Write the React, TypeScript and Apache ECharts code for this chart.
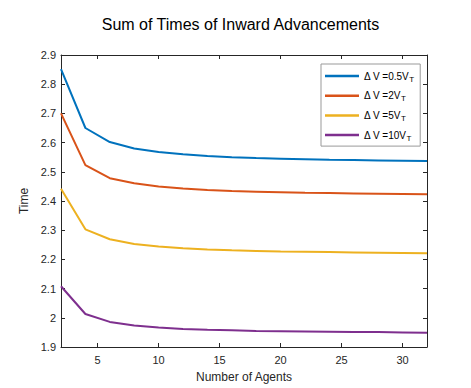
import React, { useEffect, useRef } from "react";
import * as echarts from "echarts";

const agents = [2, 4, 6, 8, 10, 12, 14, 16, 18, 20, 22, 24, 26, 28, 30, 32];
const seriesNames = ["Δ V =0.5V_T", "Δ V =2V_T", "Δ V =5V_T", "Δ V =10V_T"];
const dv05 = [2.852, 2.650, 2.602, 2.580, 2.568, 2.560, 2.554, 2.550, 2.547, 2.545, 2.543, 2.541, 2.540, 2.539, 2.538, 2.537];
const dv2 = [2.700, 2.523, 2.478, 2.461, 2.450, 2.443, 2.438, 2.434, 2.432, 2.430, 2.428, 2.427, 2.426, 2.425, 2.424, 2.423];
const dv5 = [2.442, 2.303, 2.269, 2.253, 2.244, 2.238, 2.234, 2.231, 2.229, 2.227, 2.226, 2.225, 2.224, 2.223, 2.222, 2.221];
const dv10 = [2.108, 2.013, 1.986, 1.974, 1.967, 1.962, 1.959, 1.957, 1.955, 1.954, 1.953, 1.952, 1.951, 1.951, 1.950, 1.949];
const xTicks = [5, 10, 15, 20, 25, 30];
const yTicks = [1.9, 2.0, 2.1, 2.2, 2.3, 2.4, 2.5, 2.6, 2.7, 2.8, 2.9];
const colors = ["#0072BD", "#D95319", "#EDB120", "#7E2F8E"];

const FONT = "Liberation Sans";
const AX = "#262626";

export default function App() {
  const ref = useRef<HTMLDivElement>(null);
  useEffect(() => {
    const chart = echarts.init(ref.current!, null, { renderer: "svg" });
    const values = [dv05, dv2, dv5, dv10];
    const mkX = (pos: "bottom" | "top", show: boolean) => ({
      type: "value",
      position: pos,
      min: 2,
      max: 32,
      axisLine: { show: true, onZero: false, lineStyle: { color: AX, width: 1 } },
      axisTick: { show: true, inside: true, length: 4, customValues: xTicks, lineStyle: { color: AX } },
      axisLabel: {
        show,
        customValues: xTicks,
        color: AX,
        fontFamily: FONT,
        fontSize: 11,
        margin: 7,
      },
      splitLine: { show: false },
      name: show ? "Number of Agents" : "",
      nameLocation: "middle",
      nameGap: 24,
      nameTextStyle: { color: AX, fontFamily: FONT, fontSize: 12 },
    });
    const mkY = (pos: "left" | "right", show: boolean) => ({
      type: "value",
      position: pos,
      min: 1.9,
      max: 2.9,
      axisLine: { show: true, onZero: false, lineStyle: { color: AX, width: 1 } },
      axisTick: { show: true, inside: true, length: 4, customValues: yTicks, lineStyle: { color: AX } },
      axisLabel: {
        show,
        customValues: yTicks,
        color: AX,
        fontFamily: FONT,
        fontSize: 11,
        margin: 5,
        formatter: (v: number) => String(+v.toFixed(1)),
      },
      splitLine: { show: false },
      name: show ? "Time" : "",
      nameLocation: "middle",
      nameGap: 31,
      nameRotate: 90,
      nameTextStyle: { color: AX, fontFamily: FONT, fontSize: 12 },
    });
    chart.setOption({
      animation: false,
      backgroundColor: "#ffffff",
      title: {
        text: "Sum of Times of Inward Advancements",
        left: 235.5,
        textAlign: "center",
        top: 11,
        textStyle: { color: "#000", fontFamily: FONT, fontSize: 16, fontWeight: "normal" },
      },
      grid: { left: 61, right: 44, top: 55, bottom: 41 },
      xAxis: [mkX("bottom", true), mkX("top", false)],
      yAxis: [mkY("left", true), mkY("right", false)],
      legend: {
        orient: "vertical",
        left: 321,
        top: 64,
        width: 98,
        padding: [6, 6, 4, 4],
        itemGap: 6.7,
        itemWidth: 34,
        itemHeight: 2.5,
        icon: "rect",
        borderColor: "#999",
        borderWidth: 1,
        backgroundColor: "#fff",
        data: seriesNames,
        formatter: (name: string) => {
          const [main, sub] = name.split("_");
          return `{m|${main}}{s|${sub}}`;
        },
        textStyle: {
          color: "#000",
          fontFamily: FONT,
          fontSize: 10,
          rich: {
            m: { fontFamily: FONT, fontSize: 10, color: "#000", lineHeight: 14 },
            s: { fontFamily: FONT, fontSize: 8, color: "#000", lineHeight: 14, verticalAlign: "bottom", padding: [5, 0, 0, 0] },
          },
        },
      },
      series: values.map((arr, i) => ({
        name: seriesNames[i],
        type: "line",
        data: agents.map((x, j) => [x, arr[j]]),
        symbol: "none",
        color: colors[i],
        lineStyle: { width: 2, color: colors[i] },
        xAxisIndex: 0,
        yAxisIndex: 0,
      })),
    });
    return () => chart.dispose();
  }, []);
  return <div ref={ref} style={{ width: 471, height: 388, marginLeft: -8, marginTop: -8 }} />;
}
